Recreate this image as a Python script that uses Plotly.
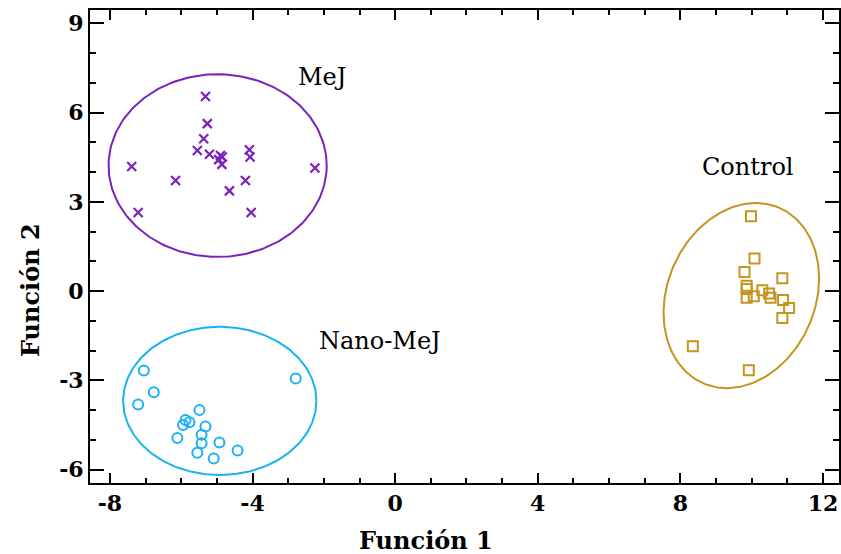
import numpy as np
import plotly.graph_objects as go

# Discriminant scores (Función 1, Función 2) per treatment group
mej_f1 = [-5.32, -5.27, -5.37, -5.55, -5.21, -4.90, -4.85, -4.95, -4.86,
          -4.09, -4.07, -7.39, -2.25, -6.16, -4.20, -4.65, -7.21, -4.04]
mej_f2 = [6.54, 5.63, 5.12, 4.73, 4.60, 4.56, 4.51, 4.42, 4.26,
          4.75, 4.51, 4.19, 4.14, 3.72, 3.72, 3.37, 2.64, 2.64]

nano_f1 = [-7.05, -6.77, -7.21, -2.79, -5.49, -5.88, -5.77, -5.95,
           -5.32, -5.43, -6.11, -5.43, -4.93, -5.55, -4.42, -5.09]
nano_f2 = [-2.67, -3.40, -3.81, -2.94, -4.00, -4.33, -4.41, -4.50,
           -4.55, -4.83, -4.94, -5.11, -5.09, -5.43, -5.36, -5.63]

ctrl_f1 = [9.98, 10.08, 9.80, 10.86, 9.86, 9.86, 10.30, 9.86,
           10.06, 10.49, 10.53, 10.88, 11.05, 10.86, 8.35, 9.92]
ctrl_f2 = [2.52, 1.10, 0.64, 0.43, 0.18, 0.07, 0.03, -0.22,
           -0.17, -0.08, -0.22, -0.30, -0.57, -0.90, -1.85, -2.66]

# Confidence ellipses: centre, semi-axes and rotation (degrees)
ell_center = {"MeJ": (-4.98, 4.22), "Nano-MeJ": (-4.92, -3.69), "Control": (9.71, -0.15)}
ell_axes = {"MeJ": (3.06, 3.07), "Nano-MeJ": (2.71, 2.49), "Control": (3.16, 2.11)}
ell_angle = {"MeJ": 0.0, "Nano-MeJ": 0.0, "Control": 76.4}

colors = {"MeJ": "#7B22BE", "Nano-MeJ": "#1AB2F0", "Control": "#C4951F"}

x_ticks = [-8, -4, 0, 4, 8, 12]
x_ticktext = ["-8", "-4", "0", "4", "8", "12"]
y_ticks = [-6, -3, 0, 3, 6, 9]
y_ticktext = ["-6", "-3", "0", "3", "6", "9"]

FONT = "DejaVu Serif"


def ellipse(name, n=240):
    cx, cy = ell_center[name]
    a, b = ell_axes[name]
    th = np.deg2rad(ell_angle[name])
    t = np.linspace(0, 2 * np.pi, n)
    x = cx + a * np.cos(t) * np.cos(th) - b * np.sin(t) * np.sin(th)
    y = cy + a * np.cos(t) * np.sin(th) + b * np.sin(t) * np.cos(th)
    return x, y


fig = go.Figure()

for name in ["MeJ", "Nano-MeJ", "Control"]:
    ex, ey = ellipse(name)
    fig.add_trace(go.Scatter(x=ex, y=ey, mode="lines",
                             line=dict(color=colors[name], width=2),
                             hoverinfo="skip", showlegend=False))

fig.add_trace(go.Scatter(x=mej_f1, y=mej_f2, mode="markers", name="MeJ",
                         marker=dict(symbol="x-thin", size=9,
                                     line=dict(color=colors["MeJ"], width=2.2))))
fig.add_trace(go.Scatter(x=nano_f1, y=nano_f2, mode="markers", name="Nano-MeJ",
                         marker=dict(symbol="circle-open", size=10,
                                     color=colors["Nano-MeJ"],
                                     line=dict(color=colors["Nano-MeJ"], width=2))))
fig.add_trace(go.Scatter(x=ctrl_f1, y=ctrl_f2, mode="markers", name="Control",
                         marker=dict(symbol="square-open", size=10,
                                     color=colors["Control"],
                                     line=dict(color=colors["Control"], width=2))))

labels = [("MeJ", -2.04, 7.2), ("Control", 9.9, 4.17), ("Nano-MeJ", -0.42, -1.68)]
for text, lx, ly in labels:
    fig.add_annotation(x=lx, y=ly, text=text, showarrow=False,
                       font=dict(family=FONT, size=24, color="black"))

# Axis titles placed as annotations
fig.add_annotation(x=0.449, y=-0.121, xref="paper", yref="paper",
                   text="<b>Función 1</b>", showarrow=False,
                   xanchor="center", yanchor="middle",
                   font=dict(family=FONT, size=24, color="black"))
fig.add_annotation(x=-0.080, y=0.408, xref="paper", yref="paper",
                   text="<b>Función 2</b>", showarrow=False, textangle=-90,
                   xanchor="center", yanchor="middle",
                   font=dict(family=FONT, size=24, color="black"))

axis_common = dict(
    showgrid=False, zeroline=False, showline=True, linecolor="black",
    linewidth=2, mirror="allticks", ticks="inside", tickcolor="black",
    tickwidth=2, tickfont=dict(family=FONT, size=22, color="black", weight="bold"),
)

fig.update_xaxes(range=[-8.56, 12.45], tickvals=x_ticks, ticktext=x_ticktext,
                 ticklen=10,
                 minor=dict(dtick=1, ticklen=5, tickwidth=2, ticks="inside",
                            tickcolor="black"),
                 **axis_common)
fig.update_yaxes(range=[-6.45, 9.45], tickvals=y_ticks, ticktext=y_ticktext,
                 ticklen=14,
                 minor=dict(dtick=1, ticklen=6, tickwidth=2, ticks="inside",
                            tickcolor="black"),
                 **axis_common)

fig.update_layout(
    width=841, height=554,
    margin=dict(l=90, r=0, t=10, b=71),
    plot_bgcolor="white", paper_bgcolor="white",
    showlegend=False,
)

fig.write_html("out.html")
